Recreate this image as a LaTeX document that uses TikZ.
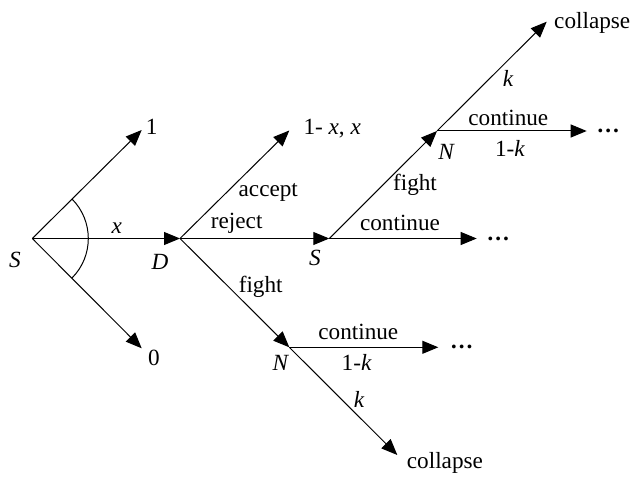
\documentclass[tikz,border=0pt]{standalone}
\usepackage{fontspec}
\setmainfont{Liberation Serif}
\usetikzlibrary{arrows.meta,calc}
\tikzset{
  edge/.style={line width=1pt,-{Triangle[length=16pt,width=13pt]}},
  lbl/.style={inner sep=0pt,font=\fontsize{23.2}{27}\selectfont},
}
\begin{document}
\begin{tikzpicture}[x=1pt,y=1pt]
\useasboundingbox (0,0) rectangle (631,479);
% junctions and end points
\coordinate (S0) at (32.3,240.5);
\coordinate (e1) at (141.7,349);
\coordinate (e0) at (141.7,130.7);
\coordinate (D)  at (180,240.5);
\coordinate (eA) at (289.3,348.5);
\coordinate (S1) at (329.3,240.5);
\coordinate (eS1) at (476.7,240.5);
\coordinate (N1) at (437,348);
\coordinate (eN1c) at (586.7,348);
\coordinate (eN1k) at (546.7,457.3);
\coordinate (N2) at (289.3,131.7);
\coordinate (eN2c) at (438.3,131.7);
\coordinate (eN2k) at (397.3,24);
% edges
\draw[edge] (S0) -- (e1);
\draw[edge] (S0) -- (e0);
\draw[edge] (S0) -- (D);
\draw[edge] (D) -- (eA);
\draw[edge] (D) -- (S1);
\draw[edge] (D) -- (N2);
\draw[edge] (S1) -- (eS1);
\draw[edge] (S1) -- (N1);
\draw[edge] (N1) -- (eN1c);
\draw[edge] (N1) -- (eN1k);
\draw[edge] (N2) -- (eN2c);
\draw[edge] (N2) -- (eN2k);
\draw[line width=1pt] ($(S0)+(-45:56)$) arc[start angle=-45,end angle=45,radius=56];
% labels
\node[lbl] (l1) at (151.7,352.3) {1};
\node[lbl] (l0) at (154,121) {0};
\node[lbl] (lx) at (116.7,251) {\textit{x}};
\node[lbl] (lS0) at (15,219) {\textit{S}};
\node[lbl] (lD) at (160,217.3) {\textit{D}};
\node[lbl,anchor=west] (lA) at (303.3,350) {1- \textit{x}, \textit{x}};
\node[lbl] (lacc) at (268.3,286.3) {accept};
\node[lbl] (lrej) at (236.7,255.7) {reject};
\node[lbl] (lS1) at (315,221) {\textit{S}};
\node[lbl] (lc1) at (400,255.7) {continue};
\node[lbl,anchor=base] (ld1) at (498.3,238.5) {\textbf{\dots}};
\node[lbl] (lf1) at (415,294) {fight};
\node[lbl] (lN1) at (446.7,327.3) {\textit{N}};
\node[lbl] (lc2) at (508.3,360.7) {continue};
\node[lbl] (lk2) at (510,330.7) {1-\textit{k}};
\node[lbl,anchor=base] (ld2) at (608.3,346.8) {\textbf{\dots}};
\node[lbl] (lk3) at (508.3,400.7) {\textit{k}};
\node[lbl,anchor=west] (lcol1) at (554,456) {collapse};
\node[lbl] (lf2) at (260.7,192.3) {fight};
\node[lbl] (lN2) at (281,115.7) {\textit{N}};
\node[lbl] (lc3) at (358.3,147.3) {continue};
\node[lbl] (lk4) at (356.7,116.3) {1-\textit{k}};
\node[lbl,anchor=base] (ld3) at (461.7,130.8) {\textbf{\dots}};
\node[lbl] (lk5) at (359.3,79.7) {\textit{k}};
\node[lbl,anchor=west] (lcol2) at (406.7,15.7) {collapse};
\end{tikzpicture}
\end{document}
